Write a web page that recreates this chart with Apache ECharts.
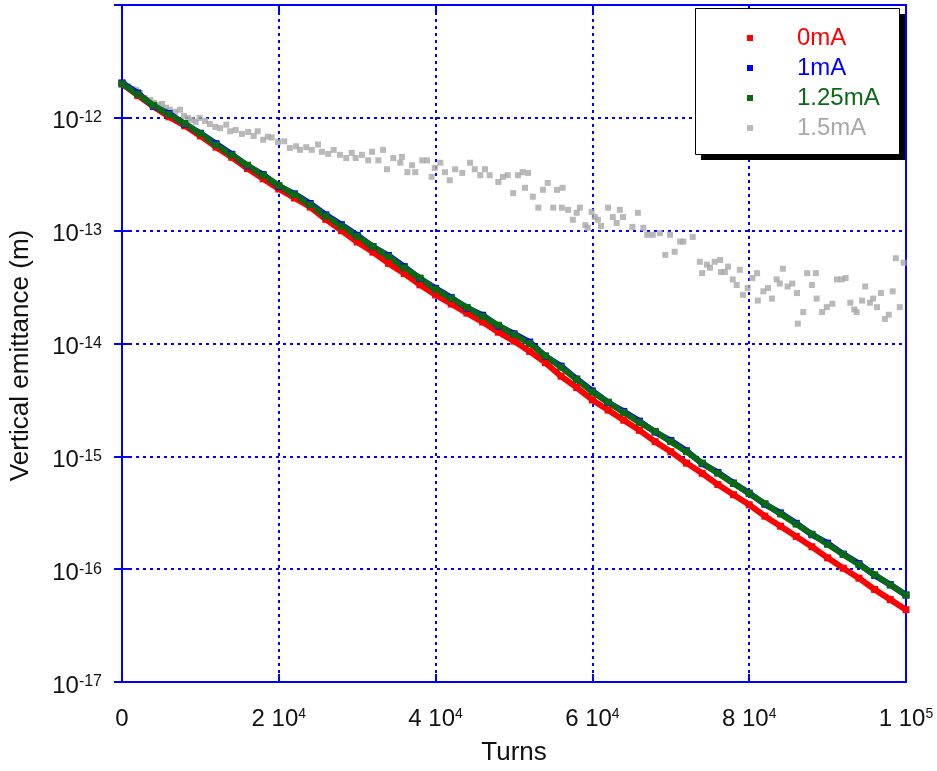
<!DOCTYPE html>
<html>
<head>
<meta charset="utf-8">
<title>Vertical emittance vs turns</title>
<script src="https://cdn.jsdelivr.net/npm/echarts@6/dist/echarts.min.js"></script>
<style>
  html, body { margin: 0; padding: 0; background: #fff; }
  #chart { width: 937px; height: 771px; }
</style>
</head>
<body>
<div id="chart"></div>
<script>
// turns for the three dense series (one reading every 2000 turns)
var turns = [0, 2000, 4000, 6000, 8000, 10000, 12000, 14000, 16000, 18000,
  20000, 22000, 24000, 26000, 28000, 30000, 32000, 34000, 36000, 38000,
  40000, 42000, 44000, 46000, 48000, 50000, 52000, 54000, 56000, 58000,
  60000, 62000, 64000, 66000, 68000, 70000, 72000, 74000, 76000, 78000,
  80000, 82000, 84000, 86000, 88000, 90000, 92000, 94000, 96000, 98000, 100000];

var emit0mA = [2.00e-12, 1.58e-12, 1.26e-12, 1.02e-12, 8.51e-13, 6.92e-13, 5.50e-13, 4.47e-13, 3.55e-13, 2.88e-13,
  2.34e-13, 1.95e-13, 1.62e-13, 1.26e-13, 1.00e-13, 7.94e-14, 6.46e-14, 5.13e-14, 4.17e-14, 3.31e-14,
  2.69e-14, 2.24e-14, 1.86e-14, 1.55e-14, 1.26e-14, 1.05e-14, 8.51e-15, 6.76e-15, 5.13e-15, 4.07e-15,
  3.16e-15, 2.57e-15, 2.09e-15, 1.70e-15, 1.35e-15, 1.10e-15, 8.71e-16, 7.08e-16, 5.62e-16, 4.57e-16,
  3.72e-16, 2.95e-16, 2.40e-16, 1.95e-16, 1.58e-16, 1.26e-16, 1.02e-16, 8.32e-17, 6.61e-17, 5.37e-17, 4.37e-17];

var emit1mA = [2.04e-12, 1.66e-12, 1.27e-12, 1.09e-12, 8.80e-13, 7.30e-13, 5.90e-13, 4.75e-13, 3.75e-13, 3.14e-13,
  2.48e-13, 2.12e-13, 1.74e-13, 1.38e-13, 1.13e-13, 9.10e-14, 7.20e-14, 6.02e-14, 4.80e-14, 3.76e-14,
  3.08e-14, 2.55e-14, 2.06e-14, 1.78e-14, 1.43e-14, 1.22e-14, 1.03e-14, 7.70e-15, 6.30e-15, 4.85e-15,
  3.80e-15, 3.00e-15, 2.50e-15, 2.05e-15, 1.64e-15, 1.38e-15, 1.12e-15, 8.60e-16, 7.20e-16, 5.80e-16,
  4.72e-16, 3.76e-16, 3.15e-16, 2.55e-16, 2.02e-16, 1.70e-16, 1.36e-16, 1.12e-16, 8.80e-17, 7.30e-17, 5.90e-17];

var emit125mA = [2.00e-12, 1.62e-12, 1.29e-12, 1.07e-12, 8.91e-13, 7.24e-13, 5.75e-13, 4.68e-13, 3.80e-13, 3.09e-13,
  2.51e-13, 2.09e-13, 1.70e-13, 1.35e-13, 1.10e-13, 8.91e-14, 7.24e-14, 5.89e-14, 4.68e-14, 3.80e-14,
  3.02e-14, 2.51e-14, 2.09e-14, 1.74e-14, 1.45e-14, 1.20e-14, 1.00e-14, 7.76e-15, 6.17e-15, 4.79e-15,
  3.72e-15, 3.02e-15, 2.45e-15, 2.00e-15, 1.66e-15, 1.35e-15, 1.10e-15, 8.71e-16, 7.08e-16, 5.75e-16,
  4.68e-16, 3.80e-16, 3.09e-16, 2.51e-16, 2.04e-16, 1.66e-16, 1.35e-16, 1.10e-16, 8.91e-17, 7.24e-17, 5.89e-17];

// 1.5mA is noisy, read point by point
var grayTurns = [300, 800, 1300, 1800, 2300, 2900, 3600, 4100, 4600, 5100,
  5600, 6100, 6800, 7400, 7900, 8400, 8900, 9400, 9900, 10600,
  11200, 11900, 12500, 13300, 13800, 14500, 15300, 16100, 16800, 17300,
  18000, 18600, 19100, 19900, 20700, 21400, 22200, 22700, 23500, 24200,
  25000, 25500, 26300, 27000, 27800, 28600, 29300, 29800, 30600, 31400,
  31900, 32700,
  33300, 33800, 34600, 35500, 35700, 36400, 37000, 37400, 38300, 38900,
  39500, 39900, 40600, 41200, 41800, 42500, 43400, 44400, 45000, 45700,
  46300, 46900, 48000, 48600, 49200, 49900, 50500, 51100, 51400, 51800,
  52400, 53100, 53700, 54300, 55000, 55500, 56100, 56200, 56900, 57500,
  58000, 58400, 59100, 59400, 59900, 60300, 60700, 61100, 62000, 62600,
  63100, 63500, 63900, 65100, 65800, 66500, 67000, 67700, 68600, 69300,
  69900, 70500, 71200, 71600, 72800,
  73700, 74000, 74600, 75000, 75600, 76300, 76400, 76900, 77300, 77900,
  78400, 78800, 79200, 79800, 80400, 81000, 81100, 81800, 82400, 82900,
  83500, 83900, 84300, 84900, 85500, 86100, 86200, 86900, 87400, 88000,
  88500, 88600, 89300, 89900, 90600, 91200, 91800, 92300, 92900, 93400,
  93700, 94400, 94800, 95400, 95800, 96300, 96800, 97300, 97800, 98300,
  98700, 99200, 99700];

var grayValues = [2.0e-12, 1.9e-12, 1.8e-12, 1.77e-12, 1.66e-12, 1.5e-12, 1.44e-12, 1.36e-12, 1.3e-12, 1.33e-12,
  1.23e-12, 1.18e-12, 1.13e-12, 1.18e-12, 1.04e-12, 1.0e-12, 9.6e-13, 9.2e-13, 1.0e-12, 9.4e-13,
  8.8e-13, 8.3e-13, 8.1e-13, 8.7e-13, 7.6e-13, 7.8e-13, 7.2e-13, 7.5e-13, 6.9e-13, 7.6e-13,
  6.4e-13, 6.8e-13, 6.7e-13, 6.1e-13, 6.2e-13, 5.4e-13, 5.6e-13, 5.2e-13, 5.5e-13, 5.2e-13,
  5.8e-13, 5.0e-13, 4.8e-13, 5.2e-13, 4.7e-13, 4.4e-13, 4.9e-13, 4.4e-13, 4.7e-13, 4.2e-13,
  5.0e-13, 4.2e-13,
  5.2e-13, 3.5e-13, 4.4e-13, 4.0e-13, 4.5e-13, 3.3e-13, 3.8e-13, 3.3e-13, 4.2e-13, 4.2e-13,
  3.0e-13, 3.6e-13, 4.0e-13, 3.3e-13, 2.8e-13, 3.5e-13, 3.25e-13, 4.0e-13, 3.5e-13, 3.1e-13,
  3.5e-13, 3.1e-13, 2.7e-13, 3.0e-13, 3.1e-13, 2.15e-13, 3.1e-13, 3.3e-13, 2.4e-13, 3.25e-13,
  2.0e-13, 1.6e-13, 2.3e-13, 2.65e-13, 1.6e-13, 2.3e-13, 1.6e-13, 2.4e-13, 1.53e-13, 1.25e-13,
  1.44e-13, 1.6e-13, 1.12e-13, 1.06e-13, 1.47e-13, 1.32e-13, 1.25e-13, 1.1e-13, 1.6e-13, 1.32e-13,
  1.17e-13, 1.53e-13, 1.32e-13, 1.08e-13, 1.44e-13, 1.06e-13, 9.2e-14, 9.2e-14, 9.5e-14, 6.1e-14,
  9.2e-14, 6.5e-14, 8.0e-14, 8.0e-14, 8.8e-14,
  5.3e-14, 4.2e-14, 5.0e-14, 4.7e-14, 5.3e-14, 5.5e-14, 4.3e-14, 4.3e-14, 4.8e-14, 3.7e-14,
  3.3e-14, 4.5e-14, 2.7e-14, 3.1e-14, 3.8e-14, 4.2e-14, 2.4e-14, 2.9e-14, 3.1e-14, 2.5e-14,
  3.7e-14, 3.4e-14, 4.6e-14, 3.2e-14, 3.4e-14, 2.8e-14, 1.5e-14, 1.9e-14, 4.2e-14, 3.3e-14,
  4.2e-14, 2.5e-14, 1.9e-14, 2.1e-14, 2.25e-14, 3.7e-14, 3.7e-14, 3.8e-14, 2.3e-14, 2.0e-14,
  1.9e-14, 2.4e-14, 3.2e-14, 2.3e-14, 2.5e-14, 2.1e-14, 2.8e-14, 1.65e-14, 1.8e-14, 2.9e-14,
  5.7e-14, 2.1e-14, 5.2e-14];

var legendNames = ['0mA', '1mA', '1.25mA', '1.5mA'];
var colors = ['#ff0000', '#0000ff', '#0a6a14', '#a8a8a8'];

function pairs(xs, ys) {
  return xs.map(function (x, i) { return [x, ys[i]]; });
}

var FONT = 'Liberation Sans';
var BLUE = '#0000ff';

var chart = echarts.init(document.getElementById('chart'));

var supRich = {
  b: { fontSize: 24, lineHeight: 24, padding: [8, 0, 0, 0], verticalAlign: 'bottom', fontFamily: FONT, color: '#111' },
  s: { fontSize: 16, lineHeight: 16, verticalAlign: 'top', fontFamily: FONT, color: '#111' },
  sx: { fontSize: 14, lineHeight: 14, verticalAlign: 'top', fontFamily: FONT, color: '#111' }
};

var option = {
  animation: false,
  backgroundColor: '#fff',
  grid: {
    left: 122, right: 31, top: 5, bottom: 89,
    show: true, borderColor: BLUE, borderWidth: 2,
    containLabel: false, outerBoundsMode: 'none'
  },
  // legend frame with its hard black shadow
  graphic: [
    { type: 'rect', z: 3, silent: true, shape: { x: 701, y: 14, width: 204, height: 146 }, style: { fill: '#000' } },
    { type: 'rect', z: 3, silent: true, shape: { x: 695.5, y: 8.5, width: 204, height: 146 }, style: { fill: '#fff', stroke: '#000', lineWidth: 1 } }
  ],
  legend: {
    orient: 'vertical',
    left: 695, top: 8,
    z: 5,
    selectedMode: false,
    icon: 'rect',
    itemWidth: 6, itemHeight: 6, itemGap: 6,
    padding: [18, 0, 0, 52],
    textStyle: { fontSize: 24, lineHeight: 24, fontFamily: FONT, padding: [0, 0, 0, 39] },
    data: legendNames.map(function (n, i) {
      return { name: n, textStyle: { color: colors[i] } };
    })
  },
  xAxis: [{
    type: 'value', min: 0, max: 100000, interval: 20000,
    name: 'Turns', nameLocation: 'middle', nameGap: 58,
    nameTextStyle: { fontSize: 26, fontFamily: FONT, color: '#111' },
    axisLine: { show: false },
    axisTick: { inside: true, length: 8, lineStyle: { color: BLUE, width: 2 } },
    splitLine: { lineStyle: { color: BLUE, width: 2, type: [3, 4] } },
    axisLabel: {
      margin: 25,
      rich: supRich,
      formatter: function (v) {
        if (v === 0) return '{b|0}';
        var e = Math.floor(Math.log10(v) + 1e-9);
        var m = Math.round(v / Math.pow(10, e));
        return '{b|' + m + ' 10}{sx|' + e + '}';
      }
    }
  }, {
    type: 'value', position: 'top', min: 0, max: 100000, interval: 20000,
    axisLine: { show: false },
    axisTick: { inside: true, length: 8, lineStyle: { color: BLUE, width: 2 } },
    axisLabel: { show: false },
    splitLine: { show: false }
  }],
  yAxis: [{
    type: 'log', logBase: 10, min: 1e-17, max: 1e-11,
    name: 'Vertical emittance (m)', nameLocation: 'middle', nameGap: 88, nameRotate: 90,
    nameTextStyle: { fontSize: 26, fontFamily: FONT, color: '#111', padding: [0, 24, 0, 0] },
    axisLine: { show: false },
    axisTick: { inside: true, length: 8, lineStyle: { color: BLUE, width: 2 } },
    splitLine: { lineStyle: { color: BLUE, width: 2, type: [3, 4] } },
    axisLabel: {
      margin: 20,
      padding: [8, 0, 0, 0],
      showMaxLabel: false,
      rich: supRich,
      formatter: function (v) {
        var e = Math.round(Math.log10(v));
        if (e === -11) return '';
        return '{b|10}{s|' + e + '}';
      }
    }
  }, {
    type: 'log', logBase: 10, min: 1e-17, max: 1e-11, position: 'right',
    axisLine: { show: false },
    axisTick: { inside: true, length: 8, lineStyle: { color: BLUE, width: 2 } },
    axisLabel: { show: false },
    splitLine: { show: false }
  }],
  series: [
    {
      name: '1.5mA', type: 'scatter', symbol: 'rect', symbolSize: 6,
      itemStyle: { color: colors[3] },
      data: pairs(grayTurns, grayValues)
    },
    {
      name: '0mA', type: 'line', symbol: 'rect', symbolSize: 7,
      lineStyle: { width: 6, color: colors[0] }, itemStyle: { color: colors[0] },
      data: pairs(turns, emit0mA)
    },
    {
      name: '1mA', type: 'line', symbol: 'rect', symbolSize: 7,
      lineStyle: { width: 6, color: colors[1] }, itemStyle: { color: colors[1] },
      data: pairs(turns, emit1mA)
    },
    {
      name: '1.25mA', type: 'line', symbol: 'rect', symbolSize: 7,
      lineStyle: { width: 6, color: colors[2] }, itemStyle: { color: colors[2] },
      data: pairs(turns, emit125mA)
    }
  ]
};

chart.setOption(option);
</script>
</body>
</html>
